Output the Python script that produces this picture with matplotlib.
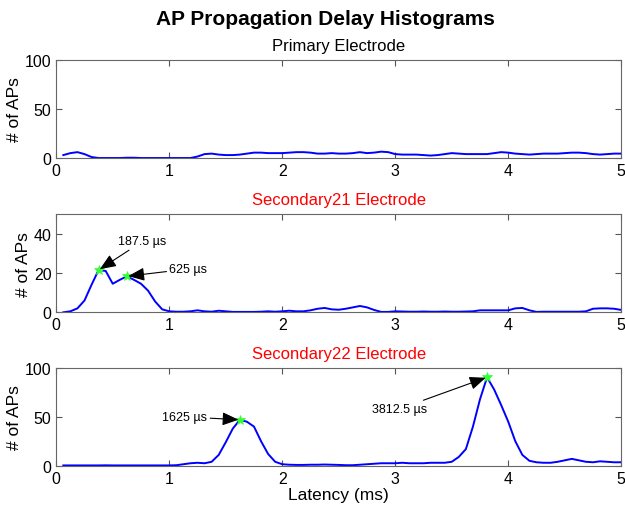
import matplotlib
matplotlib.use("Agg")
import matplotlib.pyplot as plt
import numpy as np

plt.rcParams['font.family'] = ['Liberation Sans', 'DejaVu Sans']

# latency bins (ms), 62.5 us wide
latency = np.arange(1, 81) * 0.0625

primary = [3, 5, 6, 4, 1, 0, 0, 0, 0, 0.3, 0.3, 0, 0, 0, 0, 0, 0, 0, 0, 1.5,
           4, 4.5, 3.5, 3, 3, 3.5, 4.5, 5.5, 5.5, 5, 5, 5, 5.5, 6, 6, 5.5, 4.5, 4.5, 5, 4.5,
           4.5, 5, 6, 5, 5.5, 6.5, 6, 4, 3.5, 3.5, 3.5, 3, 2.5, 3, 4, 5, 4.5, 4, 4, 4,
           4, 5, 6, 5.5, 4.5, 4, 3.5, 4, 4.5, 4.5, 4.5, 5, 5.5, 5.5, 5, 4, 3.5, 4, 4.5, 4.5]

secondary21 = [0, 0.5, 2, 6, 14, 21.5, 21, 14.5, 16.5, 18.3, 16.5, 14.5, 11, 5.5, 1.5, 0.5, 0.3, 0.3, 0.5, 1,
               0.5, 0.3, 0.8, 0.5, 0.2, 0.2, 0.2, 0.2, 0.3, 0.5, 0.3, 0.5, 0.8, 0.5, 0.5, 1, 1.8, 2.2, 1.5, 1.3,
               1.8, 2.5, 3.2, 2.5, 1.2, 0.2, 0.2, 0.5, 0.4, 0.3, 0.3, 0.4, 0.3, 0.3, 0.4, 0.3, 0.3, 0.4, 0.5, 1,
               1, 1, 1, 1, 2, 2.2, 1, 0.2, 0.3, 0.3, 0.3, 0.3, 0.3, 0.3, 0.5, 1.8, 2, 2, 1.8, 1.2]

secondary22 = [0.3, 0.3, 0.3, 0.3, 0.3, 0.3, 0.4, 0.3, 0.3, 0.3, 0.3, 0.3, 0.3, 0.3, 0.3, 0.3, 0.5, 1.5, 2.5, 3,
               2.5, 4, 11, 24, 38, 47, 45, 40, 25, 12, 4, 1.5, 1, 0.8, 0.8, 1, 1, 1.2, 1, 0.8,
               0.5, 0.5, 1, 1.5, 2, 2.5, 2.5, 2.5, 3, 2.5, 2.5, 2.5, 3, 3, 3, 4, 9, 17, 40, 68,
               90.5, 78, 62, 45, 25, 11, 5, 3.5, 3, 3, 4, 5.5, 7, 5.5, 4, 3.5, 4.5, 4, 3.5, 3.5]

# peaks marked on the plots: (latency index, label, text position)
peaks21 = [(5, u"187.5 \u00b5s", (0.55, 36)), (9, u"625 \u00b5s", (1.0, 22))]
peaks22 = [(25, u"1625 \u00b5s", (0.94, 50)), (60, u"3812.5 \u00b5s", (2.79, 58))]

fig = plt.figure(figsize=(6.25, 5.1), dpi=100)
rects = [[0.090, 0.6882, 0.904, 0.192],
         [0.090, 0.3857, 0.904, 0.193],
         [0.090, 0.0849, 0.904, 0.1916]]
titles = ["Primary Electrode", "Secondary21 Electrode", "Secondary22 Electrode"]
title_colors = ["black", "red", "red"]
ylims = [(0, 100), (0, 50), (0, 100)]
yticks = [[0, 50, 100], [0, 20, 40], [0, 50, 100]]
series = [primary, secondary21, secondary22]
all_peaks = [[], peaks21, peaks22]

for i in range(3):
    ax = fig.add_axes(rects[i])
    ax.plot(latency, series[i], color="blue", lw=1.4)
    for idx, lab, txt in all_peaks[i]:
        x, y = latency[idx], series[i][idx]
        ax.plot(x, y, marker="*", color="#33ff33", ms=7, mew=0.5)
        ax.annotate(lab, xy=(x, y), xytext=txt, fontsize=9, va="center", ha="left",
                    arrowprops=dict(arrowstyle="-|>,head_length=1.1,head_width=0.45",
                                    color="black", lw=0.8, shrinkA=0, shrinkB=1))
    ax.set_xlim(0, 5)
    ax.set_ylim(*ylims[i])
    ax.set_yticks(yticks[i])
    ax.set_xticks([0, 1, 2, 3, 4, 5])
    ax.tick_params(direction="in", top=True, right=True, labelsize=11.5, length=4,
                   color="#555555")
    for s in ax.spines.values():
        s.set_color("#666666")
    ax.set_ylabel("# of APs", fontsize=12.5, labelpad=2)
    ax.set_title(titles[i], fontsize=12, color=title_colors[i], pad=7)
    if i == 2:
        ax.set_xlabel("Latency (ms)", fontsize=12.5, labelpad=1)

fig.text(0.52, 0.961, "AP Propagation Delay Histograms", fontsize=15, fontweight="bold",
         ha="center", va="center")

fig.savefig("out.png", dpi=100)
